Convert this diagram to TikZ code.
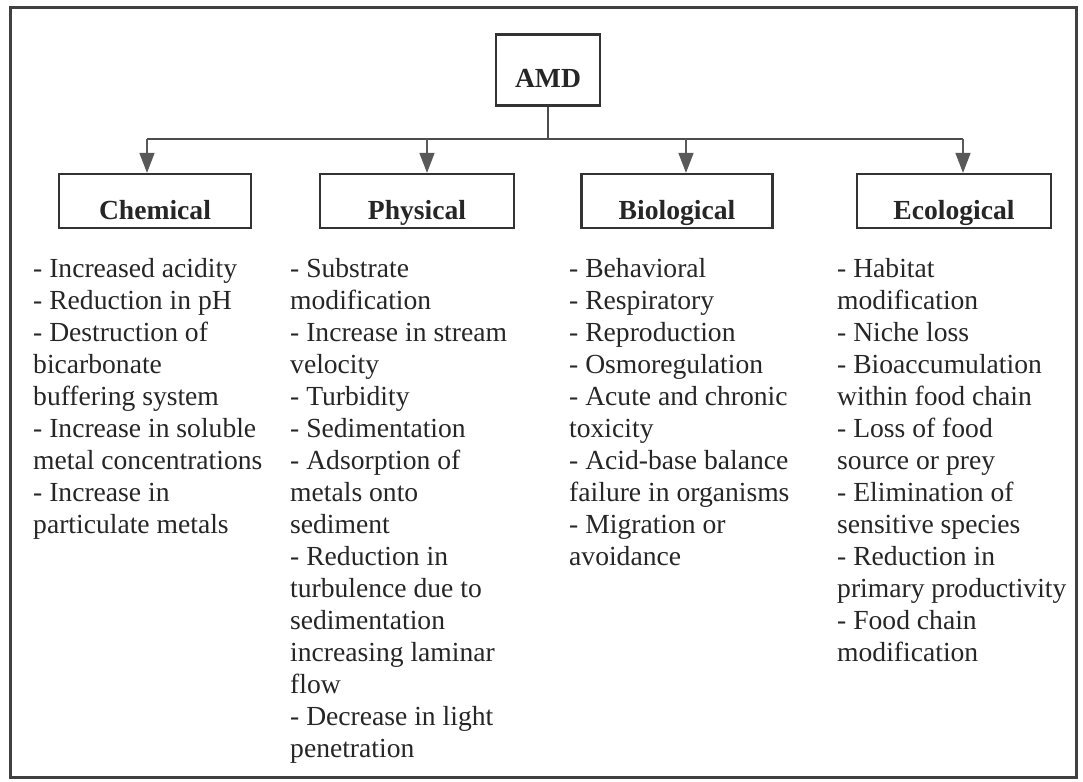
\documentclass[tikz,border=0pt]{standalone}
\usepackage{fontspec}
\setmainfont{Liberation Serif}
\usetikzlibrary{arrows.meta}
\tikzset{
  catbox/.style={draw=black!80, line width=2.2pt, inner sep=0pt,
    font=\fontsize{27.6}{32}\selectfont\bfseries, text=black!85,
    minimum height=54pt, text height=36pt, text depth=0pt},
  itemlist/.style={anchor=base west, inner sep=0pt,
    font=\fontsize{27.6}{32}\selectfont, text=black!85},
  arr/.style={-{Triangle[width=15pt,length=20pt]}, draw=black!65, line width=1.5pt}
}
\newcommand{\itemcol}[1]{\renewcommand{\arraystretch}{1}\begin{tabular}[t]{@{}l@{}}#1\end{tabular}}
\begin{document}
\begin{tikzpicture}[x=1pt,y=-1pt]
  \useasboundingbox (0,0) rectangle (1083,781);
  \draw[draw=black!75, line width=3pt] (10,8) rectangle (1076,777);
  \node (amd) at (548,70) [catbox, minimum width=104pt, minimum height=71pt] {AMD};
  \node (chem) at (155,201) [catbox, minimum width=192pt] {Chemical};
  \node (phys) at (417,201) [catbox, minimum width=194pt] {Physical};
  \node (bio) at (677,201) [catbox, minimum width=191pt] {Biological};
  \node (eco) at (954,201) [catbox, minimum width=194pt] {Ecological};
  \foreach \x/\n in {147/chem,427/phys,686/bio,963/eco}
    \coordinate (j\n) at (\x,139);
  \draw[draw=black!70, line width=1.6pt] (amd.south) -- (amd.south |- jchem);
  \draw[draw=black!70, line width=1.6pt] (jchem) -- (jeco);
  \foreach \n in {chem,phys,bio,eco}
    \draw[arr] (j\n) -- (j\n |- \n.north);
  \node (chemlist) at (33,277) [itemlist] {\itemcol{- Increased acidity\\ - Reduction in pH\\
    - Destruction of\\ bicarbonate\\ buffering system\\ - Increase in soluble\\
    metal concentrations\\ - Increase in\\ particulate metals}};
  \node (physlist) at (290,277) [itemlist] {\itemcol{- Substrate\\ modification\\
    - Increase in stream\\ velocity\\ - Turbidity\\ - Sedimentation\\ - Adsorption of\\
    metals onto\\ sediment\\ - Reduction in\\ turbulence due to\\ sedimentation\\
    increasing laminar\\ flow\\ - Decrease in light\\ penetration}};
  \node (biolist) at (569,277) [itemlist] {\itemcol{- Behavioral\\ - Respiratory\\
    - Reproduction\\ - Osmoregulation\\ - Acute and chronic\\ toxicity\\
    - Acid-base balance\\ failure in organisms\\ - Migration or\\ avoidance}};
  \node (ecolist) at (837,277) [itemlist] {\itemcol{- Habitat\\ modification\\ - Niche loss\\
    - Bioaccumulation\\ within food chain\\ - Loss of food\\ source or prey\\
    - Elimination of\\ sensitive species\\ - Reduction in\\ primary productivity\\
    - Food chain\\ modification}};
\end{tikzpicture}
\end{document}
